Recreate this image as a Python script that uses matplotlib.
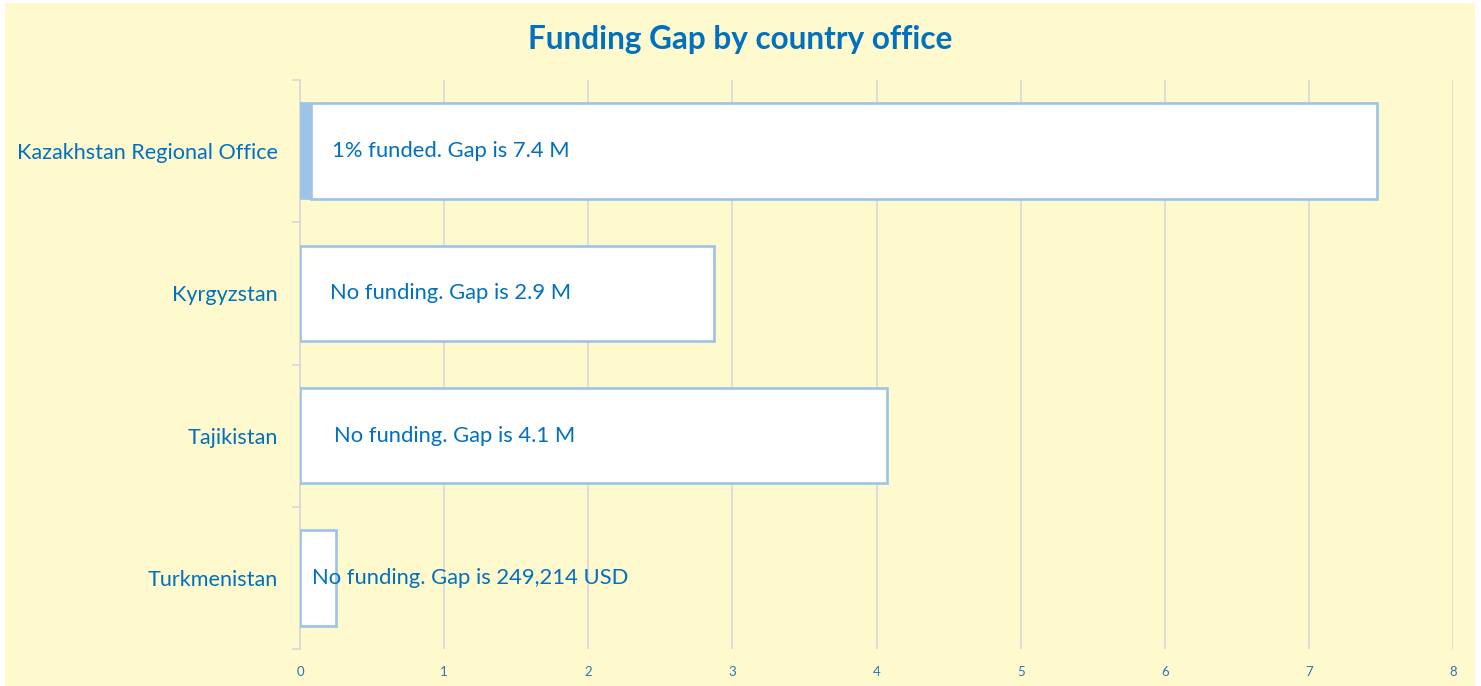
import matplotlib
matplotlib.use('Agg')
import matplotlib.pyplot as plt
from matplotlib.patches import Rectangle

offices = ['Kazakhstan Regional Office', 'Kyrgyzstan', 'Tajikistan', 'Turkmenistan']
funded = [0.075, 0.0, 0.0, 0.0]          # million USD
gap = [7.4, 2.87, 4.07, 0.249]           # million USD
labels = ['1% funded. Gap is 7.4 M', 'No funding. Gap is 2.9 M',
          'No funding. Gap is 4.1 M', 'No funding. Gap is 249,214 USD']
xticks = [0, 1, 2, 3, 4, 5, 6, 7, 8]

blue = '#0070C0'
light_blue = '#9DC3E6'
bg = '#FEFACD'
grid_col = '#D9D9D9'

plt.rcParams['font.family'] = ['Lato', 'DejaVu Sans']

fig = plt.figure(figsize=(14.81, 6.86), dpi=100, facecolor='white')
fig.patches.append(Rectangle((5 / 1481, 0), 1470 / 1481, 683 / 686,
                             transform=fig.transFigure, facecolor=bg,
                             edgecolor='none', zorder=-10))
ax = fig.add_axes([300 / 1481, 1 - 649 / 686, 1153 / 1481, 569 / 686])
ax.set_facecolor('none')

y = list(range(len(offices)))
ax.barh(y, funded, height=0.67, color=light_blue, edgecolor=light_blue, linewidth=1.2, zorder=3)
ax.barh(y, gap, left=funded, height=0.67, color='white', edgecolor=light_blue, linewidth=1.9, zorder=3)

label_offsets = [21, 30, 34, 12]
for i, (f, txt, off) in enumerate(zip(funded, labels, label_offsets)):
    ax.annotate(txt, xy=(f, i), xytext=(off, 0), textcoords='offset pixels',
                va='center', ha='left', color=blue, fontsize=15.8, zorder=5)

ax.set_xlim(0, 8)
ax.set_ylim(len(offices) - 0.5, -0.5)
ax.set_xticks(xticks)
ax.set_yticks(y)
ax.set_yticklabels(offices)
ax.set_yticks([i - 0.5 for i in range(len(offices) + 1)], minor=True)
ax.tick_params(axis='y', which='major', length=0, pad=16, labelsize=15.6, labelcolor=blue)
ax.tick_params(axis='y', which='minor', length=6, color=grid_col, width=1.2)
ax.tick_params(axis='x', length=0, pad=12, labelsize=9.5, labelcolor='#2E75B6')

ax.grid(axis='x', color=grid_col, linewidth=1.2, zorder=0)
for s in ['top', 'right', 'bottom']:
    ax.spines[s].set_visible(False)
ax.spines['left'].set_color(grid_col)
ax.spines['left'].set_linewidth(1.2)

fig.text(740 / 1481, 1 - 40 / 686, 'Funding Gap by country office', ha='center', va='center',
         fontsize=22.7, fontweight='bold', color=blue)

fig.savefig('out.png', dpi=100, facecolor=fig.get_facecolor())
